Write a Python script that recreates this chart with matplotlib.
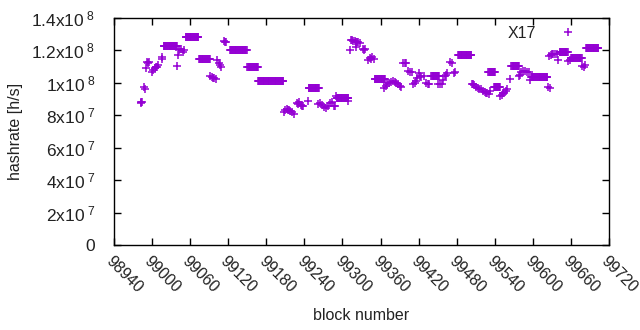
import numpy as np
import matplotlib
matplotlib.use("Agg")
import matplotlib.pyplot as plt

plt.rcParams['font.family'] = ['Liberation Sans', 'DejaVu Sans']
plt.rcParams['mathtext.fontset'] = 'custom'
plt.rcParams['mathtext.rm'] = 'Liberation Sans'
plt.rcParams['mathtext.it'] = 'Liberation Sans'
plt.rcParams['mathtext.default'] = 'regular'

# ---- data ----
# runs of equal hashrate (first block, last block, hashrate)
run_start = [99018, 99053, 99074, 99123, 99150, 99167, 99247, 99291, 99351,
             99440, 99482, 99530, 99539, 99566, 99597, 99642, 99660, 99684]
run_end   = [99039, 99073, 99091, 99149, 99167, 99207, 99263, 99309, 99367,
             99452, 99503, 99540, 99548, 99578, 99623, 99655, 99677, 99703]
run_value = [1.225e8, 1.28e8, 1.145e8, 1.20e8, 1.10e8, 1.01e8, 9.71e7, 9.05e7, 1.022e8,
             1.045e8, 1.17e8, 1.065e8, 9.72e7, 1.105e8, 1.035e8, 1.19e8, 1.155e8, 1.217e8]

# individual blocks
pt_block = [98982, 98983, 98984, 98987, 98989, 98990, 98992, 98994, 98995,
            99000, 99002, 99004, 99006, 99007, 99009, 99015, 99016, 99040,
            99041, 99043, 99046, 99048, 99050,
            99092, 99094, 99096, 99098, 99100, 99103, 99105, 99107, 99109,
            99113, 99115, 99117,
            99208, 99210, 99212, 99214, 99216, 99218, 99220, 99224,
            99228, 99230, 99232, 99234, 99236, 99238, 99245,
            99262, 99265, 99268, 99271, 99274, 99277, 99280, 99283, 99286, 99289,
            99290, 99309, 99312,
            99313, 99315, 99317, 99319, 99321, 99322, 99323, 99325, 99327,
            99332, 99334, 99336, 99340, 99343, 99345, 99347, 99349,
            99366, 99368, 99370, 99373, 99376, 99379, 99382, 99385, 99388, 99391, 99393,
            99395, 99398, 99400, 99404, 99407, 99410,
            99411, 99414, 99416, 99418, 99420, 99422, 99424, 99428,
            99431, 99434, 99437, 99451, 99454, 99457,
            99459, 99461, 99463, 99465, 99469, 99472, 99475, 99478,
            99504, 99506, 99508, 99510, 99513, 99515, 99518, 99521, 99524, 99526, 99528, 99531, 99533,
            99549, 99551, 99553, 99555, 99557, 99560, 99564,
            99578, 99580, 99582, 99585, 99588, 99591, 99594, 99595,
            99624, 99627, 99626, 99628, 99630, 99632, 99635, 99638, 99640,
            99656, 99658, 99678, 99680, 99682]
pt_value = [8.85e7, 8.75e7, 8.8e7, 9.75e7, 9.6e7, 1.09e8, 1.13e8, 1.12e8, 1.13e8,
            1.07e8, 1.08e8, 1.09e8, 1.10e8, 1.10e8, 1.11e8, 1.15e8, 1.16e8, 1.102e8,
            1.17e8, 1.20e8, 1.21e8, 1.19e8, 1.20e8,
            1.04e8, 1.035e8, 1.03e8, 1.03e8, 1.025e8, 1.14e8, 1.12e8, 1.11e8, 1.10e8,
            1.26e8, 1.25e8, 1.255e8,
            8.2e7, 8.3e7, 8.4e7, 8.35e7, 8.3e7, 8.25e7, 8.2e7, 8.05e7,
            8.75e7, 8.7e7, 8.8e7, 8.65e7, 8.55e7, 8.6e7, 8.9e7,
            8.7e7, 8.75e7, 8.65e7, 8.5e7, 8.45e7, 8.6e7, 8.75e7, 8.8e7, 8.6e7, 8.55e7,
            9.2e7, 8.9e7, 1.2e8,
            1.265e8, 1.265e8, 1.26e8, 1.26e8, 1.255e8, 1.22e8, 1.25e8, 1.25e8, 1.245e8,
            1.21e8, 1.205e8, 1.21e8, 1.14e8, 1.155e8, 1.15e8, 1.16e8, 1.15e8,
            9.7e7, 9.8e7, 9.9e7, 1.0e8, 1.005e8, 1.01e8, 1.005e8, 1.0e8, 9.9e7, 9.8e7, 9.75e7,
            1.125e8, 1.12e8, 1.12e8, 1.075e8, 1.07e8, 1.065e8,
            9.95e7, 1.0e8, 1.01e8, 1.03e8, 1.06e8, 1.04e8, 1.035e8, 1.04e8,
            1.0e8, 9.95e7, 9.95e7, 9.95e7, 9.9e7, 9.9e7,
            1.02e8, 1.04e8, 1.05e8, 1.06e8, 1.13e8, 1.125e8, 1.06e8, 1.065e8,
            9.95e7, 9.9e7, 9.85e7, 9.75e7, 9.7e7, 9.65e7, 9.6e7, 9.5e7, 9.45e7, 9.35e7, 9.4e7, 9.3e7, 9.5e7,
            9.2e7, 9.25e7, 9.35e7, 9.4e7, 9.5e7, 9.6e7, 1.024e8,
            1.04e8, 1.05e8, 1.07e8, 1.075e8, 1.075e8, 1.07e8, 1.07e8, 1.02e8,
            9.75e7, 9.7e7, 1.165e8, 1.17e8, 1.175e8, 1.18e8, 1.18e8, 1.18e8, 1.14e8,
            1.135e8, 1.14e8, 1.105e8, 1.10e8, 1.11e8]

xticks = list(range(98940, 99721, 60))
yticks = [0, 2e7, 4e7, 6e7, 8e7, 1e8, 1.2e8, 1.4e8]
ytick_labels = ['0', r'2x10$^{\ 7}$', r'4x10$^{\ 7}$', r'6x10$^{\ 7}$', r'8x10$^{\ 7}$',
                r'1x10$^{\ 8}$', r'1.2x10$^{\ 8}$', r'1.4x10$^{\ 8}$']
series_name = 'X17'

# ---- build full series ----
xs, ys = [], []
for s, e, v in zip(run_start, run_end, run_value):
    blocks = np.arange(s, e + 1)
    xs.extend(blocks.tolist())
    ys.extend([v] * len(blocks))
xs.extend(pt_block)
ys.extend(pt_value)
order = np.argsort(xs, kind='stable')
xs = np.array(xs)[order]
ys = np.array(ys)[order]

color = '#9400D3'
txt = '#222222'
fig = plt.figure(figsize=(6.4, 3.3), dpi=100)
ax = fig.add_axes([114/640, 1 - 245/330, 495/640, 227/330])
ax.plot(xs, ys, linestyle='none', marker='+', markersize=6, markeredgewidth=1.1,
        color=color, label=series_name)

ax.set_xlim(98940, 99720)
ax.set_ylim(0, 1.4e8)
ax.set_xticks(xticks)
ax.set_xticklabels([str(t) for t in xticks], rotation=-45, ha='left', va='top',
                   rotation_mode='anchor', fontsize=11.5)
ax.set_yticks(yticks)
ax.set_yticklabels(ytick_labels, fontsize=12.5)
ax.tick_params(direction='in', length=5, width=1, top=True, right=True,
               color='black', labelcolor=txt)
ax.tick_params(axis='x', pad=6)
ax.tick_params(axis='y', pad=13.5)
for sp in ax.spines.values():
    sp.set_linewidth(1)
    sp.set_color('black')

ax.set_xlabel('block number', fontsize=11.5, color=txt, labelpad=9)
ax.set_ylabel('hashrate [h/s]', fontsize=11.5, color=txt, labelpad=6)

leg = ax.legend(loc='upper right', bbox_to_anchor=((584-114)/495, (245-26)/227),
                frameon=False, markerfirst=False, fontsize=11.5, handlelength=2.0,
                handletextpad=1.0, borderpad=0, borderaxespad=0)
for t in leg.get_texts():
    t.set_color(txt)

fig.savefig('out.png', dpi=100)
